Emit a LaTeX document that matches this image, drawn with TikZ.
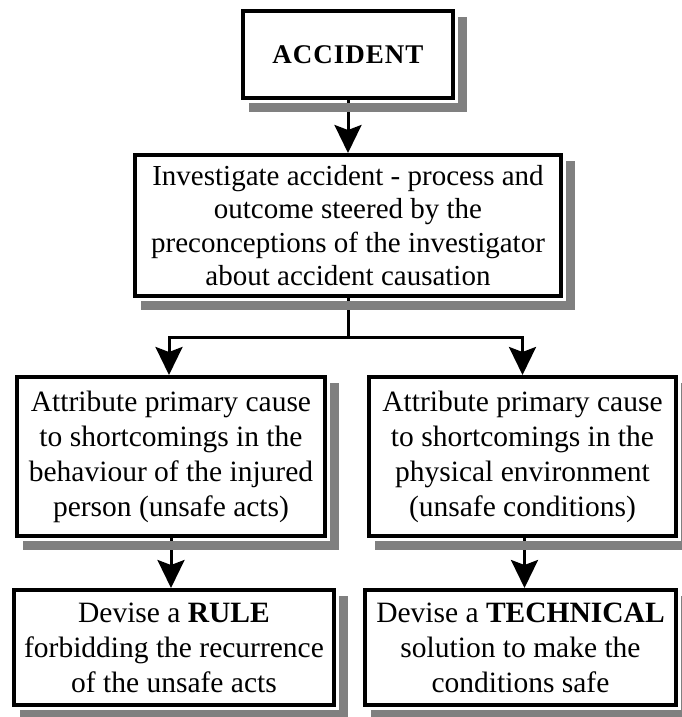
\documentclass[tikz,border=0pt]{standalone}
\usepackage{fontspec}
\setmainfont{Liberation Serif}
\usetikzlibrary{arrows.meta,calc,backgrounds}
\definecolor{shadowgray}{HTML}{808080}
\newcommand\boxshadow[1]{%
  \fill[shadowgray] ($(#1.north east)+(3,8)$) rectangle ($(#1.south east)+(12,12)$);
  \fill[shadowgray] ($(#1.south west)+(8,3)$) rectangle ($(#1.south east)+(12,12)$);}
\tikzset{
  flowbox/.style={draw=black, line width=4pt, fill=white, align=center, inner sep=0pt,
    font=\fontsize{29.5}{35}\selectfont},
  conn/.style={line width=3pt, black},
  arr/.style={conn, -{Stealth[length=28pt,width=27pt,inset=5pt]}}
}
\begin{document}
\begin{tikzpicture}[x=1pt,y=-1pt]
\useasboundingbox (0,0) rectangle (681,717);
\node[flowbox, minimum width=210pt, minimum height=87pt, font=\fontsize{27}{32}\selectfont\bfseries] (acc) at (348,54.5) {A\kern1ptC\kern1ptC\kern1ptI\kern1ptD\kern1ptE\kern1ptN\kern1ptT};
\node[flowbox, minimum width=426pt, minimum height=141pt, font=\fontsize{29}{33.5}\selectfont] (inv) at (348,225.5)
  {Investigate accident - process and\\outcome steered by the\\preconceptions of the investigator\\about accident causation};
\node[flowbox, minimum width=308pt, minimum height=159pt] (left) at (171,456.5)
  {Attribute primary cause\\to shortcomings in the\\behaviour of the injured\\person (unsafe acts)};
\node[flowbox, minimum width=307pt, minimum height=159pt] (right) at (522.5,456.5)
  {Attribute primary cause\\to shortcomings in the\\physical environment\\(unsafe conditions)};
\node[flowbox, minimum width=320pt, minimum height=115pt] (bl) at (174,647.5)
  {Devise a \textbf{RULE}\\forbidding the recurrence\\of the unsafe acts};
\node[flowbox, minimum width=311pt, minimum height=115pt] (br) at (520.5,647.5)
  {Devise a \textbf{TECHNICAL}\\solution to make the\\conditions safe};
\coordinate (split) at ($(inv.south)+(0,39)$);
\begin{pgfonlayer}{background}
  \draw[arr] (acc.south) -- (inv.north);
  \draw[conn] (inv.south) -- (split);
  \draw[arr] (split) -| ($(left.north)+(-2,0)$);
  \draw[arr] (split) -| (right.north);
  \draw[arr] (left.south) -- (left.south |- bl.north);
  \draw[arr] ($(right.south)+(2,0)$) -- ($(right.south |- br.north)+(2,0)$);
  \boxshadow{acc}
  \boxshadow{inv}
  \boxshadow{left}
  \boxshadow{right}
  \boxshadow{bl}
  \boxshadow{br}
\end{pgfonlayer}
\end{tikzpicture}
\end{document}
